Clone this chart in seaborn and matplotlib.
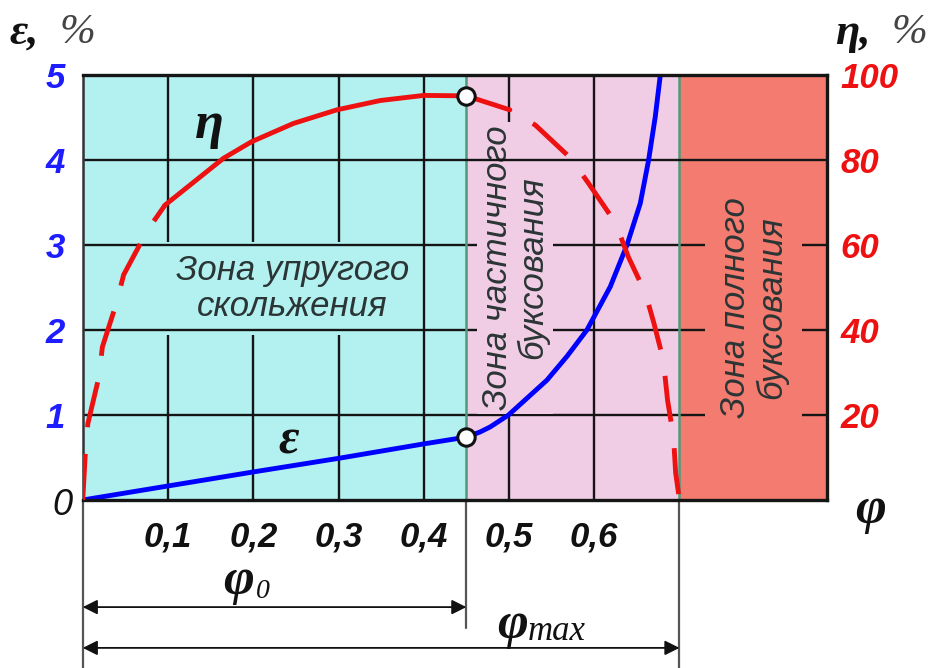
import matplotlib
matplotlib.use('Agg')
import matplotlib.pyplot as plt
import matplotlib.transforms as mtransforms
import seaborn as sns

# кривая буксования ε(φ), %
phi_eps = [0, 0.1, 0.2, 0.3, 0.4, 0.45, 0.466, 0.478, 0.4994, 0.5445, 0.568, 0.5914,
           0.6188, 0.6384, 0.654, 0.6638, 0.6716, 0.6775]
eps = [0, 0.165, 0.33, 0.49, 0.66, 0.74, 0.8, 0.86, 1.0, 1.41, 1.69, 2.0,
       2.51, 3.0, 3.49, 4.0, 4.51, 5.0]

# кривая тягового КПД η(φ), %
phi_eta = [0, 0.003, 0.006, 0.019, 0.023, 0.039, 0.048, 0.076, 0.0965, 0.165, 0.198, 0.247,
           0.298, 0.349, 0.4, 0.45, 0.501, 0.531, 0.572, 0.593, 0.625, 0.64, 0.66, 0.67,
           0.681, 0.686, 0.693, 0.6955, 0.70]
eta = [0, 11, 18, 29, 36, 46, 53, 63.5, 69.4, 80.4, 84.3, 88.6,
       91.8, 94.0, 95.2, 95.1, 91.8, 88.2, 80.5, 74.6, 65.2, 57.2, 48.7, 41.6,
       33, 23.5, 14.8, 6.4, 0]
eta_solid = (0.0965, 0.501)

# границы зон
phi0 = 0.45
phi_max = 0.70
phi_end = 0.873

x_ticks = [0.1, 0.2, 0.3, 0.4, 0.5, 0.6]
x_labels = ['0,1', '0,2', '0,3', '0,4', '0,5', '0,6']
eps_ticks = [1, 2, 3, 4, 5]
eta_ticks = [20, 40, 60, 80, 100]

zone_labels = ['Зона упругого\nскольжения', 'Зона частичного\nбуксования', 'Зона полного\nбуксования']
zone_colors = ['#b3f1f1', '#f1cde5', '#f37b6f']

sns.set_style('white')
plt.rcParams['font.family'] = ['Liberation Sans', 'DejaVu Sans']
SERIF = ['Liberation Serif', 'DejaVu Serif']
INK = '#111111'

fig = plt.figure(figsize=(9.32, 6.68), dpi=100)
ax = fig.add_axes([0.0888, 0.2515, 0.7985, 0.6362])
ax2 = ax.twinx()

ax.set_xlim(0, phi_end)
ax.set_ylim(0, 5)
ax2.set_ylim(0, 100)

# зоны
bounds = [0, phi0, phi_max, phi_end]
for i, c in enumerate(zone_colors):
    ax.axvspan(bounds[i], bounds[i + 1], color=c, lw=0, zorder=0)
for b in (phi0, phi_max):
    ax.axvline(b, color='#4f9a7a', lw=1.8, zorder=2.2)

# сетка (линия ε=4 проходит поверх подписи средней зоны)
for x in x_ticks:
    ax.axvline(x, color='#151515', lw=1.7, zorder=1)
for y in eps_ticks[:-1]:
    ax.axhline(y, color='#151515', lw=1.7, zorder=2.6 if y == 4 else 2)

# подписи зон
txt_kw = dict(ha='center', va='center', fontsize=25, style='italic', color='#2b3535',
              linespacing=1.1)
ax.text(0.2457, 2.49, zone_labels[0], zorder=1.5,
        bbox=dict(boxstyle='square,pad=0.35', fc=zone_colors[0], ec='none'), **txt_kw)
ax.text(0.507, 2.73, zone_labels[1], rotation=90, zorder=2.5,
        bbox=dict(boxstyle='square,pad=0.1', fc=zone_colors[1], ec='none'), **txt_kw)
ax.text(0.787, 2.26, zone_labels[2], rotation=90, zorder=2.5,
        bbox=dict(boxstyle='square,pad=0.4', fc=zone_colors[2], ec='none'), **txt_kw)

# кривая ε
sns.lineplot(x=phi_eps, y=eps, ax=ax, color='#0000ff', lw=3.5, sort=False,
             estimator=None, zorder=5)
i0 = phi_eps.index(phi0)
ax.plot(phi_eps[i0], eps[i0], 'o', ms=12.5, mfc='white', mec=INK, mew=2.2, zorder=6)

# кривая η: сплошная часть и пунктирные продолжения
solid = [(p, e) for p, e in zip(phi_eta, eta) if eta_solid[0] <= p <= eta_solid[1]]
left = [(p, e) for p, e in zip(phi_eta, eta) if p <= eta_solid[0]]
right = [(p, e) for p, e in zip(phi_eta, eta) if p >= eta_solid[1]]
sns.lineplot(x=[p for p, _ in solid], y=[e for _, e in solid], ax=ax2, color='#ee1111',
             lw=3.5, sort=False, estimator=None)
for part, off in ((left, 0), (right, 9.5)):
    sns.lineplot(x=[p for p, _ in part], y=[e for _, e in part], ax=ax2, color='#ee1111',
                 lw=3.5, sort=False, estimator=None, linestyle=(off, (9.5, 5.5)))
j0 = phi_eta.index(phi0)
ax2.plot(phi_eta[j0], eta[j0], 'o', ms=12.5, mfc='white', mec=INK, mew=2.2, zorder=6)

# оси и подписи делений
tick_kw = dict(fontsize=25, fontweight='bold', style='italic')
ax.set_xticks(x_ticks)
ax.set_xticklabels(x_labels, color=INK, **tick_kw)
ax.set_yticks(eps_ticks)
ax.set_yticklabels([str(t) for t in eps_ticks], color='#1d1dff', **tick_kw)
ax2.set_yticks(eta_ticks)
ax2.set_yticklabels([str(t) for t in eta_ticks], color='#ee1111', **tick_kw)
ax.tick_params(axis='x', length=0, pad=15)
ax.tick_params(axis='y', length=0, pad=13)
ax2.tick_params(axis='y', length=0, pad=10)
ax.set_xlabel('')
ax.set_ylabel('')
ax2.set_ylabel('')

for s in ax2.spines.values():
    s.set_visible(False)
for s in ('top', 'bottom', 'right'):
    ax.spines[s].set_color('#151515')
    ax.spines[s].set_linewidth(2.4)
ax.spines['left'].set_color('#333333')
ax.spines['left'].set_linewidth(1.8)
for s in ax.spines.values():
    s.set_zorder(7)

# обозначения на графике
greek_kw = dict(fontweight='bold', style='italic', family=SERIF, ha='center', va='center',
                color=INK)
ax.text(0.149, 4.41, 'η', fontsize=38, **greek_kw)
ax.text(0.241, 0.69, 'ε', fontsize=36, **greek_kw)
ax.text(-0.024, -0.07, '0', fontsize=26, style='italic', ha='center', va='center',
        color=INK, clip_on=False)
ax.text(0.924, -0.12, 'φ', fontsize=38, clip_on=False, **greek_kw)

# заголовки осей
fig.text(9 / 932, 1 - 33 / 668, 'ε,', fontsize=32, fontweight='bold', style='italic',
         family=SERIF, ha='left', va='center', color=INK)
fig.text(60 / 932, 1 - 33 / 668, '%', fontsize=31, style='italic', family=SERIF,
         ha='left', va='center', color='#444444')
fig.text(835 / 932, 1 - 33 / 668, 'η,', fontsize=32, fontweight='bold', style='italic',
         family=SERIF, ha='left', va='center', color=INK)
fig.text(892 / 932, 1 - 33 / 668, '%', fontsize=31, style='italic', family=SERIF,
         ha='left', va='center', color='#444444')

# размерные линии φ0 и φmax
trans = mtransforms.blended_transform_factory(ax.transData, ax.transAxes)
for x, y_end in ((0, -0.395), (phi0, -0.301), (phi_max, -0.395)):
    ax.plot([x, x], [0, y_end], transform=trans, color='#555555', lw=1.6, clip_on=False,
            zorder=1)
for x, y in ((phi0, -0.252), (phi_max, -0.348)):
    ax.annotate('', xy=(x, y), xytext=(0, y), xycoords=trans, textcoords=trans,
                arrowprops=dict(arrowstyle='<|-|>', color=INK, lw=1.3,
                                mutation_scale=22, shrinkA=0, shrinkB=0))
ax.text(0.183, -0.19, 'φ', transform=trans, fontsize=38, **greek_kw)
ax.text(0.203, -0.215, '0', transform=trans, fontsize=20, style='italic', family=SERIF,
        ha='left', va='center', color=INK)
ax.text(0.504, -0.295, 'φ', transform=trans, fontsize=38, **greek_kw)
ax.text(0.522, -0.31, 'max', transform=trans, fontsize=25, style='italic', family=SERIF,
        ha='left', va='center', color=INK)

fig.savefig('out.png', dpi=100, facecolor='white')
